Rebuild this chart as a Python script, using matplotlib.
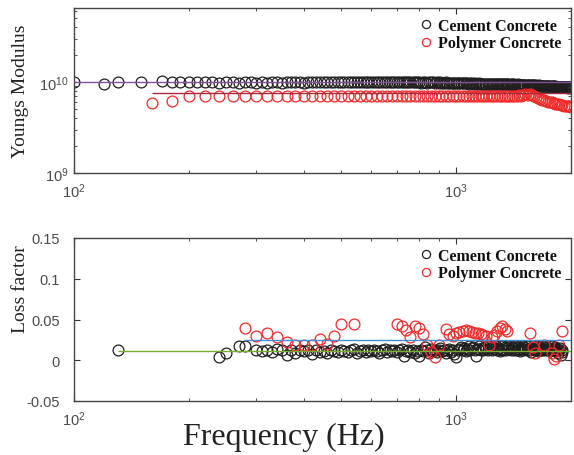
import matplotlib
matplotlib.use("Agg")
import matplotlib.pyplot as plt
from matplotlib.ticker import FixedLocator, FixedFormatter

# ---- Youngs modulus (top panel), modulus in units of 1e9 Pa ----
freq_cement_top = [100, 120, 130, 150,
                   170, 180, 190, 200, 210, 220, 230, 240, 250, 260,
                   270, 280, 290, 300, 310, 320, 330, 340, 350, 360,
                   370, 380, 390, 400, 410, 420, 430, 440, 450, 460,
                   470, 480, 490, 500, 510, 520, 530, 540, 550, 560,
                   570, 580, 590, 600, 610, 620, 630, 640, 650, 660,
                   670, 680, 690, 700, 710, 720, 730, 740, 750, 760,
                   770, 780, 790, 800, 810, 820, 830, 840, 850, 860,
                   870, 880, 890, 900, 910, 920, 930, 940, 950, 960,
                   970, 980, 990,
                   1000, 1010, 1020, 1030, 1040, 1050, 1060, 1070, 1080, 1090,
                   1100, 1110, 1120, 1130, 1140, 1150, 1160, 1170, 1180, 1190,
                   1200, 1210, 1220, 1230, 1240, 1250, 1260, 1270, 1280, 1290,
                   1300, 1310, 1320, 1330, 1340, 1350, 1360, 1370, 1380, 1390,
                   1400, 1410, 1420, 1430, 1440, 1450, 1460, 1470, 1480, 1490,
                   1500, 1510, 1520, 1530, 1540, 1550, 1560, 1570, 1580, 1590,
                   1600, 1610, 1620, 1630, 1640, 1650, 1660, 1670, 1680, 1690,
                   1700, 1710, 1720, 1730, 1740, 1750, 1760, 1770, 1780, 1790,
                   1800, 1810, 1820, 1830, 1840, 1850, 1860, 1870, 1880, 1890,
                   1900, 1910, 1920, 1930, 1940, 1950, 1960, 1970, 1980, 1990,
                   2000]
modulus_cement = [9.9, 9.4, 9.9, 9.9,
                  10.2, 10.0, 10.0, 10.0, 9.9, 10.0, 9.9, 9.8, 10.0, 9.9,
                  9.7, 10.0, 9.9, 9.8, 10.0, 9.7, 10.0, 9.9, 9.8, 10.0,
                  9.9, 10.0, 10.0, 9.8, 9.9, 10.0, 10.0, 9.9, 10.0, 10.0,
                  10.0, 9.9, 10.0, 10.0, 10.0, 9.9, 10.0, 10.0, 10.0, 10.0,
                  10.0, 10.0, 9.9, 10.0, 10.0, 10.0, 10.0, 9.9, 10.0, 10.0,
                  10.0, 10.0, 10.0, 9.9, 10.0, 10.0, 10.0, 9.9, 9.9, 10.0,
                  9.9, 10.0, 9.9, 9.9, 9.8, 9.9, 9.9, 9.8, 9.9, 9.9,
                  9.9, 9.8, 9.9, 9.8, 9.9, 9.8, 9.8, 9.9, 9.8, 9.8,
                  9.8, 9.8, 9.7,
                  9.8, 9.7, 9.8, 9.7, 9.7, 9.8, 9.7, 9.7, 9.6, 9.7,
                  9.7, 9.6, 9.7, 9.6, 9.6, 9.7, 9.6, 9.6, 9.5, 9.6,
                  9.6, 9.5, 9.6, 9.5, 9.5, 9.6, 9.5, 9.4, 9.5, 9.5,
                  9.5, 9.4, 9.5, 9.4, 9.4, 9.5, 9.4, 9.4, 9.3, 9.4,
                  9.4, 9.3, 9.4, 9.3, 9.3, 9.4, 9.3, 9.2, 9.3, 9.3,
                  9.3, 9.2, 9.3, 9.2, 9.2, 9.3, 9.2, 9.1, 9.2, 9.2,
                  9.2, 9.1, 9.2, 9.1, 9.1, 9.2, 9.1, 9.0, 9.1, 9.1,
                  9.1, 9.0, 9.1, 9.0, 9.0, 9.1, 9.0, 8.9, 9.0, 9.0,
                  9.0, 8.9, 9.0, 8.9, 8.8, 8.9, 8.8, 8.8, 8.9, 8.8,
                  8.8, 8.7, 8.8, 8.7, 8.7, 8.8, 8.7, 8.6, 8.7, 8.7,
                  8.6]

freq_polymer_top = [160, 180, 200, 220, 240, 260, 280, 300, 320, 340,
                    360, 380, 400, 420, 440, 460, 480, 500, 520, 540,
                    560, 580, 600, 620, 640, 660, 680, 700, 720, 740,
                    760, 780, 800, 820, 840, 860, 880, 900, 920, 940,
                    960, 980, 1000, 1020, 1040, 1060, 1080, 1100, 1120, 1140,
                    1160, 1180, 1200, 1220, 1240, 1260, 1280, 1300, 1320, 1340,
                    1360, 1380, 1400, 1420, 1440, 1460, 1480, 1500, 1520, 1540,
                    1560, 1580, 1600, 1620, 1640, 1660, 1680, 1700, 1720, 1740,
                    1760, 1780, 1800, 1820, 1840, 1860, 1880, 1900, 1920, 1940,
                    1960, 1980, 2000]
modulus_polymer = [5.9, 6.2, 7.0, 7.0, 7.0, 7.1, 7.1, 7.1, 7.1, 7.1,
                   7.1, 7.1, 7.1, 7.1, 7.1, 7.1, 7.1, 7.1, 7.1, 7.1,
                   7.1, 7.1, 7.0, 7.1, 7.1, 7.0, 7.1, 7.1, 7.0, 7.0,
                   7.1, 7.0, 7.0, 7.1, 7.0, 7.0, 7.1, 7.0, 7.0, 7.0,
                   7.0, 7.1, 7.0, 7.0, 7.1, 7.0, 7.0, 7.0, 7.1, 7.0,
                   7.0, 7.0, 7.1, 7.0, 7.0, 7.0, 7.1, 7.0, 7.0, 7.0,
                   7.0, 7.1, 7.0, 7.0, 7.1, 7.2, 7.1, 7.2, 7.3, 7.2,
                   7.3, 7.2, 7.0, 6.8, 6.6, 6.5, 6.4, 6.3, 6.2, 6.1,
                   6.0, 6.0, 5.9, 5.8, 5.8, 5.7, 5.6, 5.6, 5.5, 5.5,
                   5.4, 5.4, 5.3]

mean_modulus_cement = 10.0
mean_modulus_polymer = 7.5

# ---- Loss factor (bottom panel) ----
freq_cement_loss = [130, 240, 250, 270, 280, 300,
                    310, 320, 330, 340, 350, 360, 370, 380, 390, 400,
                    410, 420, 430, 440, 450, 460, 470, 480, 490, 500,
                    510, 520, 530, 540, 550, 560, 570, 580, 590, 600,
                    610, 620, 630, 640, 650, 660, 670, 680, 690, 700,
                    710, 720, 730, 740, 750, 760, 770, 780, 790, 800,
                    810, 820, 830, 840, 850, 860, 870, 880, 890, 900,
                    910, 920, 930, 940, 950, 960, 970, 980, 990, 1000,
                    1010, 1020, 1030, 1040, 1050, 1060, 1070, 1080, 1090, 1100,
                    1110, 1120, 1130, 1140, 1150, 1160, 1170, 1180, 1190, 1200,
                    1210, 1220, 1230, 1240, 1250, 1260, 1270, 1280, 1290, 1300,
                    1310, 1320, 1330, 1340, 1350, 1360, 1370, 1380, 1390, 1400,
                    1410, 1420, 1430, 1440, 1450, 1460, 1470, 1480, 1490, 1500,
                    1510, 1520, 1530, 1540, 1550, 1560, 1570, 1580, 1590, 1600,
                    1610, 1620, 1630, 1640, 1650, 1660, 1670, 1680, 1690, 1700,
                    1710, 1720, 1730, 1740, 1750, 1760, 1770, 1780, 1790, 1800,
                    1810, 1820, 1830, 1840, 1850, 1860, 1870, 1880, 1890, 1900]
loss_cement = [0.012, 0.0045, 0.0085, 0.017, 0.017, 0.0125,
               0.011, 0.013, 0.010, 0.014, 0.012, 0.006, 0.012, 0.009, 0.013, 0.011,
               0.012, 0.008, 0.013, 0.010, 0.011, 0.009, 0.012, 0.011, 0.010, 0.013,
               0.011, 0.010, 0.012, 0.014, 0.009, 0.011, 0.013, 0.010, 0.012, 0.011,
               0.013, 0.011, 0.009, 0.012, 0.014, 0.010, 0.012, 0.011, 0.013, 0.010,
               0.012, 0.014, 0.005, 0.011, 0.013, 0.010, 0.012, 0.009, 0.011, 0.005,
               0.013, 0.011, 0.016, 0.012, 0.009, 0.014, 0.011, 0.013, 0.010, 0.012,
               0.015, 0.011, 0.013, 0.009, 0.012, 0.014, 0.010, 0.012, 0.008, 0.004,
               0.012, 0.014, 0.016, 0.013, 0.015, 0.011, 0.014, 0.017, 0.013, 0.015,
               0.016, 0.012, 0.005, 0.014, 0.017, 0.013, 0.015, 0.012, 0.016, 0.014,
               0.013, 0.017, 0.015, 0.012, 0.016, 0.014, 0.018, 0.013, 0.015, 0.011,
               0.014, 0.017, 0.012, 0.016, 0.013, 0.015, 0.018, 0.014, 0.012, 0.016,
               0.015, 0.013, 0.017, 0.012, 0.016, 0.014, 0.011, 0.015, 0.018, 0.013,
               0.016, 0.014, 0.012, 0.017, 0.013, 0.015, 0.010, 0.016, 0.014, 0.012,
               0.015, 0.013, 0.017, 0.011, 0.014, 0.016, 0.012, 0.015, 0.013, 0.018,
               0.014, 0.012, 0.016, 0.013, 0.015, 0.011, 0.014, 0.017, 0.012, 0.015,
               0.013, 0.016, 0.011, 0.014, 0.009, 0.012, 0.015, 0.007, 0.013, 0.010]

freq_polymer_loss = [280, 300, 320, 340, 360, 380, 400, 420, 440, 460,
                     480, 500, 540, 700, 720, 740, 760, 780, 800, 820,
                     840, 860, 880, 900, 940, 960, 980, 1000, 1020, 1040,
                     1060, 1080, 1100, 1120, 1140, 1160, 1180, 1200, 1220, 1240,
                     1260, 1280, 1300, 1320, 1340, 1360, 1560, 1590, 1610, 1700,
                     1780, 1800, 1830, 1860, 1890]
loss_polymer = [0.040, 0.030, 0.034, 0.029, 0.023, 0.019, 0.019, 0.019, 0.026, 0.020,
                0.030, 0.044, 0.044, 0.045, 0.042, 0.037, 0.028, 0.042, 0.040, 0.032,
                0.019, 0.010, 0.004, 0.019, 0.038, 0.032, 0.030, 0.033, 0.035, 0.036,
                0.037, 0.036, 0.035, 0.034, 0.033, 0.032, 0.031, 0.030, 0.019, 0.029,
                0.031, 0.036, 0.040, 0.042, 0.038, 0.036, 0.033, 0.016, 0.009, 0.019,
                0.009, 0.001, 0.005, 0.019, 0.036]

mean_loss_cement = 0.0115
mean_loss_polymer = 0.0245

freq_max = 2000
labels = ["Cement Concrete", "Polymer Concrete"]

SERIF = "Liberation Serif"
SANS = "Liberation Sans"
BLACK = "#1e1e1e"
RED = "#f22a2a"


def style_axes(ax, ypad=4):
    ax.set_xscale("log")
    ax.set_xlim(100, freq_max)
    ax.tick_params(which="both", direction="in", top=True, right=True,
                   colors="#333333", labelcolor="#4a4a4a", labelsize=10.5)
    ax.tick_params(which="major", length=4)
    ax.tick_params(which="minor", length=2.5)
    ax.tick_params(axis="x", which="major", pad=6)
    ax.tick_params(axis="y", which="major", pad=ypad)
    for lab in ax.get_xticklabels() + ax.get_yticklabels():
        lab.set_family(SANS)
    for sp in ax.spines.values():
        sp.set_color("#444444")
        sp.set_linewidth(1.0)


def scatter(ax, x, y, color, label):
    ax.plot(x, y, linestyle="none", marker="o", mfc="none", mec=color,
            ms=7.8, mew=0.9, label=label)


def add_legend(ax):
    leg = ax.legend(loc="upper right", frameon=False,
                    prop={"family": SERIF, "weight": "bold", "size": 11.5},
                    handlelength=0.8, handletextpad=0.35, labelspacing=0.1,
                    borderaxespad=0.2, markerscale=0.75)
    for t in leg.get_texts():
        t.set_color("#111111")


def main():
    fig = plt.figure(figsize=(5.74, 4.56), dpi=100)
    W, H = 574.0, 456.0
    ax1 = fig.add_axes([74 / W, 1 - 174 / H, (571 - 74) / W, (174 - 9) / H])
    ax2 = fig.add_axes([74 / W, 1 - 402 / H, (571 - 74) / W, (402 - 239) / H])

    # top: Youngs modulus
    scale = 1e9
    scatter(ax1, freq_cement_top, [v * scale for v in modulus_cement], BLACK, labels[0])
    scatter(ax1, freq_polymer_top, [v * scale for v in modulus_polymer], RED, labels[1])
    ax1.hlines(mean_modulus_cement * scale, min(freq_cement_top), freq_max,
               color="#8a4c9c", lw=1.0, zorder=3)
    ax1.hlines(mean_modulus_polymer * scale, min(freq_polymer_top), freq_max,
               color="#a8283c", lw=1.0, zorder=3)
    ax1.set_yscale("log")
    ax1.set_ylim(1e9, 6.5e10)
    style_axes(ax1)
    ax1.set_ylabel("Youngs Modulus", family=SERIF, fontsize=14, color="#222222")
    ax1.yaxis.set_label_coords(-0.09, 0.5)
    add_legend(ax1)

    # bottom: loss factor
    scatter(ax2, freq_cement_loss, loss_cement, BLACK, labels[0])
    scatter(ax2, freq_polymer_loss, loss_polymer, RED, labels[1])
    ax2.hlines(mean_loss_polymer, min(freq_polymer_loss), freq_max,
               color="#3f8fd4", lw=1.0, zorder=3)
    ax2.hlines(mean_loss_cement, min(freq_cement_loss), freq_max,
               color="#77ac30", lw=1.0, zorder=3)
    ax2.set_ylim(-0.05, 0.15)
    yt = [-0.05, 0, 0.05, 0.1, 0.15]
    ax2.yaxis.set_major_locator(FixedLocator(yt))
    ax2.yaxis.set_major_formatter(FixedFormatter(["-0.05", "0", "0.05", "0.1", "0.15"]))
    style_axes(ax2, ypad=10)
    ax2.set_ylabel("Loss factor", family=SERIF, fontsize=14, color="#222222")
    ax2.yaxis.set_label_coords(-0.09, 0.69)
    add_legend(ax2)

    fig.text(284 / W, 1 - 437 / H, "Frequency (Hz)", family=SERIF, fontsize=23,
             ha="center", va="center", color="#222222")

    fig.savefig("out.png", dpi=100)


if __name__ == "__main__":
    main()
